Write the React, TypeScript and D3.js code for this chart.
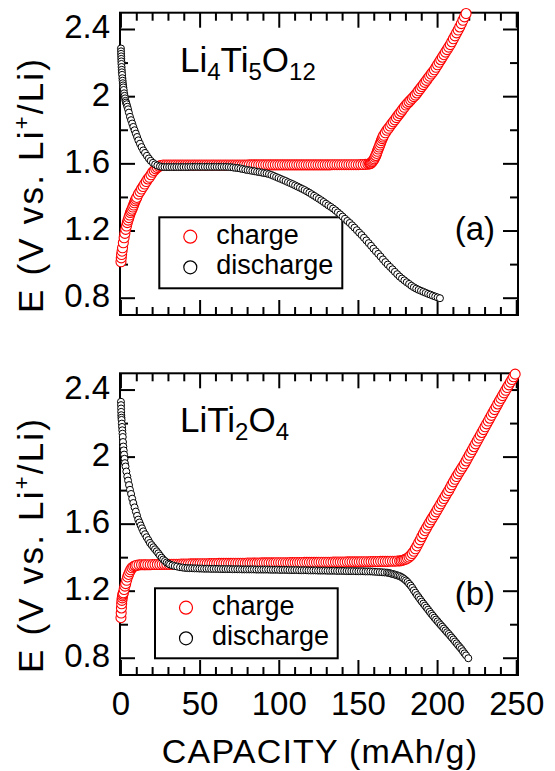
import React from "react";
import * as d3 from "d3";

const W = 555;
const H = 771;
const FONT = "'Liberation Sans', Arial, Helvetica, sans-serif";
const RED = "#ff0000";
const BLACK = "#000000";

// Li4Ti5O12 : [capacity (mAh/g), E (V)]
const ltoCharge: [number, number][] = [
  [0, 1.017], [0.2, 1.04], [0.4, 1.06], [0.7, 1.08], [1, 1.1], [1.5, 1.13], [2, 1.16], [2.5, 1.186],
  [3, 1.21], [3.5, 1.23], [4, 1.25], [4.5, 1.265], [5, 1.28], [5.5, 1.295], [6, 1.31], [6.5, 1.32], [7, 1.33],
  [7.5, 1.343], [8, 1.355], [8.5, 1.368], [9, 1.38], [9.5, 1.39], [10, 1.4], [11, 1.42], [12, 1.435],
  [13, 1.45], [14, 1.465], [15, 1.48], [16, 1.495], [17, 1.51], [18, 1.52], [19, 1.535], [20, 1.55],
  [21, 1.56], [22, 1.57], [23, 1.578], [24, 1.585], [25, 1.59], [26, 1.592],
  [27, 1.593], [28.5, 1.593], [30, 1.593], [31.5, 1.593], [33, 1.593], [34.5, 1.593], [36, 1.593],
  [37.5, 1.593], [39, 1.593], [40.5, 1.593], [42, 1.593], [43.5, 1.593], [45, 1.593], [46.5, 1.593],
  [48, 1.593], [49.5, 1.593], [51, 1.593], [52.5, 1.593], [54, 1.593], [55.5, 1.593], [57, 1.593],
  [58.5, 1.593], [60, 1.593], [61.5, 1.593], [63, 1.593], [64.5, 1.593], [66, 1.593], [67.5, 1.593],
  [69, 1.593], [70.5, 1.593], [72, 1.593], [73.5, 1.593], [75, 1.593], [76.5, 1.593], [78, 1.593],
  [79.5, 1.593], [81, 1.594], [82.5, 1.594], [84, 1.594], [85.5, 1.594], [87, 1.594], [88.5, 1.594],
  [90, 1.594], [91.5, 1.594], [93, 1.594], [94.5, 1.594], [96, 1.594], [97.5, 1.594], [99, 1.594],
  [100.5, 1.594], [102, 1.594], [103.5, 1.594], [105, 1.594], [106.5, 1.594], [108, 1.594], [109.5, 1.594],
  [111, 1.594], [112.5, 1.594], [114, 1.594], [115.5, 1.594], [117, 1.594], [118.5, 1.594], [120, 1.594],
  [121.5, 1.594], [123, 1.594], [124.5, 1.594], [126, 1.594], [127.5, 1.594], [129, 1.594], [130.5, 1.594],
  [132, 1.594], [133.5, 1.595], [135, 1.595], [136.5, 1.595], [138, 1.595], [139.5, 1.595], [141, 1.595],
  [142.5, 1.595], [144, 1.595], [145.5, 1.595], [147, 1.595], [148.5, 1.595], [150, 1.595], [151.5, 1.596],
  [153, 1.596], [154.5, 1.597], [156, 1.598],
  [157, 1.6], [157.5, 1.602], [158, 1.605], [158.5, 1.61], [159, 1.615], [159.5, 1.622], [160, 1.63],
  [160.5, 1.64], [161, 1.65], [161.5, 1.662], [162, 1.675], [162.5, 1.688], [163, 1.7], [163.5, 1.712],
  [164, 1.725], [164.5, 1.738], [165, 1.75], [165.5, 1.76], [166, 1.77], [167, 1.785], [168, 1.8],
  [169, 1.812], [170, 1.825], [171, 1.838], [172, 1.85], [173, 1.862], [174, 1.875], [175, 1.888],
  [176, 1.9], [177, 1.912], [178, 1.925], [179, 1.937], [180, 1.95], [181, 1.96], [182, 1.97], [183, 1.98],
  [184, 1.99], [185, 2.0], [186, 2.01], [187, 2.022], [188, 2.035], [189, 2.047], [190, 2.06], [191, 2.072],
  [192, 2.085], [193, 2.097], [194, 2.11], [195, 2.122], [196, 2.135], [197, 2.147], [198, 2.16],
  [199, 2.175], [200, 2.19], [201, 2.205], [202, 2.22], [203, 2.235], [204, 2.25], [205, 2.265], [206, 2.28],
  [207, 2.295], [208, 2.31], [209, 2.327], [210, 2.345], [211, 2.362], [212, 2.38], [213, 2.397],
  [214, 2.415], [215, 2.435], [216, 2.455], [217, 2.475], [218, 2.495],
];

const ltoDischarge: [number, number][] = [
  [0, 2.287], [0.05, 2.27], [0.1, 2.255], [0.15, 2.24], [0.2, 2.225], [0.25, 2.21], [0.3, 2.195], [0.4, 2.177],
  [0.5, 2.16], [0.6, 2.145], [0.75, 2.13], [0.9, 2.11], [1.05, 2.095], [1.2, 2.08], [1.35, 2.067], [1.5, 2.055],
  [1.75, 2.04], [2, 2.02], [2.3, 2.005], [2.6, 1.99], [2.9, 1.975], [3.2, 1.965], [3.6, 1.955], [4, 1.94],
  [4.5, 1.925], [5, 1.905], [5.7, 1.88], [6.4, 1.86], [7.1, 1.84], [7.8, 1.82], [8.6, 1.8], [9.4, 1.78],
  [10.2, 1.76], [11, 1.74], [12, 1.72], [13, 1.7], [14.1, 1.68], [15.2, 1.665], [16.4, 1.648], [17.6, 1.632],
  [18.8, 1.618], [20.2, 1.606], [21.6, 1.597], [23, 1.59], [24.6, 1.585], [26, 1.582],
  [27.5, 1.581], [29, 1.581], [30.5, 1.581], [32, 1.581], [33.5, 1.581], [35, 1.581], [36.5, 1.581],
  [38, 1.581], [39.5, 1.581], [41, 1.581], [42.5, 1.581], [44, 1.582], [45.5, 1.582], [47, 1.582],
  [48.5, 1.582], [50, 1.582], [51.5, 1.582], [53, 1.582], [54.5, 1.582], [56, 1.582], [57.5, 1.582],
  [59, 1.582], [60.5, 1.582], [62, 1.582], [63.5, 1.582], [65, 1.582], [66.5, 1.582],
  [68, 1.581], [69.5, 1.58], [71, 1.578], [72.5, 1.576], [74, 1.575], [75.5, 1.572], [77, 1.569], [78.5, 1.566],
  [80, 1.563], [81.5, 1.561], [83, 1.558], [84.5, 1.556], [86, 1.553], [87.5, 1.551], [89, 1.548],
  [90.5, 1.545], [92, 1.543], [93.5, 1.539], [95, 1.534], [96.5, 1.528], [98, 1.522], [99.5, 1.516],
  [101, 1.51], [102.5, 1.504], [104, 1.498], [105.5, 1.491], [107, 1.485], [108.5, 1.479], [110, 1.472],
  [111.5, 1.465], [113, 1.458], [114.5, 1.451], [116, 1.444], [117.5, 1.436], [119, 1.428], [120.5, 1.419],
  [122, 1.41], [123.5, 1.401], [125, 1.392], [126.5, 1.383], [128, 1.373], [129.5, 1.363], [131, 1.353],
  [132.5, 1.344], [134, 1.334], [135.5, 1.323], [137, 1.311], [138.5, 1.299], [140, 1.286], [141.5, 1.273],
  [143, 1.26], [144.5, 1.248], [146, 1.234], [147.5, 1.22], [149, 1.205], [150.5, 1.19], [152, 1.176],
  [153.5, 1.16], [155, 1.144], [156.5, 1.128], [158, 1.112], [159.5, 1.095], [161, 1.079], [162.5, 1.064],
  [164, 1.048], [165.5, 1.031], [167, 1.015], [168.5, 1.0], [170, 0.986], [171.5, 0.972], [173, 0.957],
  [174.5, 0.943], [176, 0.929], [177.5, 0.917], [179, 0.906], [180.5, 0.895], [182, 0.885], [183.5, 0.874],
  [185, 0.865], [186.5, 0.857], [188, 0.85], [189.5, 0.844], [191, 0.838], [192.5, 0.832], [194, 0.826],
  [195.5, 0.821], [197, 0.815], [198.5, 0.81], [200, 0.805], [201.5, 0.8],
];

// LiTi2O4 : [capacity (mAh/g), E (V)]
const ltCharge: [number, number][] = [
  [0, 1.042], [0.15, 1.07], [0.3, 1.1], [0.45, 1.125], [0.6, 1.145], [0.8, 1.16], [1, 1.172], [1.25, 1.182],
  [1.5, 1.19], [2, 1.21], [2.5, 1.23], [3, 1.245], [3.6, 1.265], [4.2, 1.285], [4.8, 1.3], [5.5, 1.315],
  [6.2, 1.328], [7, 1.34], [8, 1.347], [9, 1.352], [10, 1.355], [11.5, 1.357], [13, 1.358], [14.5, 1.358],
  [15.5, 1.358], [17, 1.358], [18.5, 1.358], [20, 1.359], [21.5, 1.359], [23, 1.359], [24.5, 1.359],
  [26, 1.36], [27.5, 1.36], [29, 1.36], [30.5, 1.36], [32, 1.361], [33.5, 1.361], [35, 1.361], [36.5, 1.361],
  [38, 1.362], [39.5, 1.362], [41, 1.362], [42.5, 1.362], [44, 1.363], [45.5, 1.363], [47, 1.363],
  [48.5, 1.363], [50, 1.364], [51.5, 1.364], [53, 1.364], [54.5, 1.364], [56, 1.365], [57.5, 1.365],
  [59, 1.365], [60.5, 1.365], [62, 1.366], [63.5, 1.366], [65, 1.366], [66.5, 1.366], [68, 1.366],
  [69.5, 1.366], [71, 1.367], [72.5, 1.367], [74, 1.367], [75.5, 1.367], [77, 1.367], [78.5, 1.367],
  [80, 1.368], [81.5, 1.368], [83, 1.368], [84.5, 1.368], [86, 1.368], [87.5, 1.368], [89, 1.369],
  [90.5, 1.369], [92, 1.369], [93.5, 1.369], [95, 1.369], [96.5, 1.369], [98, 1.37], [99.5, 1.37],
  [101, 1.37], [102.5, 1.37], [104, 1.37], [105.5, 1.37], [107, 1.371], [108.5, 1.371], [110, 1.371],
  [111.5, 1.371], [113, 1.371], [114.5, 1.371], [116, 1.372], [117.5, 1.372], [119, 1.372], [120.5, 1.372],
  [122, 1.372], [123.5, 1.372], [125, 1.373], [126.5, 1.373], [128, 1.373], [129.5, 1.373], [131, 1.373],
  [132.5, 1.373], [134, 1.374], [135.5, 1.374], [137, 1.374], [138.5, 1.374], [140, 1.374], [141.5, 1.374],
  [143, 1.375], [144.5, 1.375], [146, 1.375], [147.5, 1.375], [149, 1.375], [150.5, 1.375], [152, 1.376],
  [153.5, 1.376], [155, 1.376], [156.5, 1.376], [158, 1.377], [159.5, 1.377], [161, 1.377], [162.5, 1.377],
  [164, 1.378], [165.5, 1.378], [167, 1.378], [168.5, 1.378], [170, 1.379], [171.5, 1.379], [173, 1.379],
  [174.5, 1.38], [176, 1.381],
  [177, 1.382], [178, 1.385], [179, 1.388], [180, 1.392], [181, 1.397], [182, 1.404], [183, 1.413],
  [184, 1.425], [185, 1.438], [186, 1.453], [187, 1.47], [188, 1.488], [189, 1.506], [190, 1.525],
  [191, 1.543], [192, 1.561], [193, 1.577], [194, 1.594], [195, 1.61], [196, 1.626], [197, 1.641],
  [198, 1.657], [199, 1.673], [200, 1.689], [201, 1.705], [202, 1.721], [203, 1.737], [204, 1.753],
  [205, 1.769], [206, 1.785], [207, 1.8], [208, 1.818], [209, 1.835], [210, 1.852], [211, 1.868], [212, 1.884],
  [213, 1.9], [214, 1.915], [215, 1.93], [216, 1.945], [217, 1.96], [218, 1.977], [219, 1.994], [220, 2.011],
  [221, 2.028], [222, 2.045], [223, 2.062], [224, 2.079], [225, 2.096], [226, 2.113], [227, 2.13], [228, 2.147],
  [229, 2.164], [230, 2.181], [231, 2.198], [232, 2.215], [233, 2.232], [234, 2.249], [235, 2.266], [236, 2.283],
  [237, 2.3], [238, 2.317], [239, 2.334], [240, 2.35], [241, 2.367], [242, 2.383], [243, 2.399], [244, 2.415],
  [245, 2.431], [246, 2.447], [247, 2.463], [248, 2.479], [249, 2.495],
];

const ltDischarge: [number, number][] = [
  [0, 2.33], [0.05, 2.31], [0.1, 2.29], [0.15, 2.27], [0.2, 2.25], [0.3, 2.235], [0.4, 2.222], [0.55, 2.2],
  [0.7, 2.18], [0.85, 2.16], [1, 2.14], [1.15, 2.12], [1.3, 2.09], [1.5, 2.063], [1.75, 2.04], [2, 2.015],
  [2.25, 1.99], [2.5, 1.964], [2.9, 1.944], [3.4, 1.914], [4, 1.884], [4.5, 1.86], [5.1, 1.833], [5.7, 1.805],
  [6.4, 1.78], [7.1, 1.752], [7.8, 1.726], [8.6, 1.7], [9.4, 1.675], [10.2, 1.65], [10.9, 1.627], [11.7, 1.61],
  [12.5, 1.592], [13.3, 1.575], [14.1, 1.557], [15.2, 1.54], [16.2, 1.522], [17.3, 1.505], [18.3, 1.488],
  [19.4, 1.475], [20.5, 1.462], [21.5, 1.45], [22.6, 1.438], [23.6, 1.426], [24.6, 1.413], [25.7, 1.4],
  [26.7, 1.389], [27.8, 1.38], [28.9, 1.371], [30, 1.364], [31, 1.359], [32.5, 1.354], [34, 1.35], [35.5, 1.347],
  [37.3, 1.343], [39, 1.341], [40.5, 1.339], [42, 1.338], [43.5, 1.337], [45, 1.337], [46.5, 1.336],
  [48, 1.336], [49.5, 1.335],
  [51, 1.335], [52.5, 1.334], [54, 1.334], [55.5, 1.334], [57, 1.333], [58.5, 1.333], [60, 1.333],
  [61.5, 1.333], [63, 1.332], [64.5, 1.332], [66, 1.332], [67.5, 1.332], [69, 1.332], [70.5, 1.331],
  [72, 1.331], [73.5, 1.331], [75, 1.331], [76.5, 1.33], [78, 1.33], [79.5, 1.33], [81, 1.33], [82.5, 1.33],
  [84, 1.33], [85.5, 1.329], [87, 1.329], [88.5, 1.329], [90, 1.329], [91.5, 1.329], [93, 1.329],
  [94.5, 1.328], [96, 1.328], [97.5, 1.328], [99, 1.328], [100.5, 1.327], [102, 1.327], [103.5, 1.327],
  [105, 1.327], [106.5, 1.326], [108, 1.326], [109.5, 1.326], [111, 1.326], [112.5, 1.325], [114, 1.325],
  [115.5, 1.325], [117, 1.325], [118.5, 1.324], [120, 1.324], [121.5, 1.324], [123, 1.324], [124.5, 1.323],
  [126, 1.323], [127.5, 1.323], [129, 1.323], [130.5, 1.322], [132, 1.322], [133.5, 1.322], [135, 1.322],
  [136.5, 1.321], [138, 1.321], [139.5, 1.321], [141, 1.321], [142.5, 1.32], [144, 1.32], [145.5, 1.32],
  [147, 1.32], [148.5, 1.319], [150, 1.319], [151.5, 1.319], [153, 1.319], [154.5, 1.318], [156, 1.318],
  [157.5, 1.318], [159, 1.317], [160.5, 1.316], [162, 1.315], [163.5, 1.314], [165, 1.313], [166.5, 1.312],
  [168, 1.311], [169, 1.309], [170, 1.307], [171, 1.304], [172, 1.302], [173, 1.299], [174, 1.296],
  [175, 1.293], [176, 1.29], [177, 1.285], [178, 1.279], [179, 1.272], [180, 1.264], [181, 1.255],
  [182, 1.244], [183, 1.233], [184, 1.22], [185, 1.205], [186, 1.191], [187, 1.177], [188, 1.164],
  [189, 1.151], [190, 1.138], [191, 1.126], [192, 1.114], [193, 1.102], [194, 1.09], [195, 1.077],
  [196, 1.065], [197, 1.054], [198, 1.042], [199, 1.031], [200, 1.02], [201, 1.009], [202, 0.998],
  [203, 0.988], [204, 0.977], [205, 0.966], [206, 0.955], [207, 0.945], [208, 0.934], [209, 0.923],
  [210, 0.912], [211, 0.9], [212, 0.889], [213, 0.877], [214, 0.866], [215, 0.855], [216, 0.842],
  [217, 0.829], [218, 0.817], [219.4, 0.8],
];

const xMajorTicks = [0, 50, 100, 150, 200, 250];
const xMinorTicks = [10, 20, 30, 40, 60, 70, 80, 90, 110, 120, 130, 140, 160, 170, 180, 190, 210, 220, 230, 240];
const yMajorTicks = [0.8, 1.2, 1.6, 2.0, 2.4];
const yMajorLabels = ["0.8", "1.2", "1.6", "2", "2.4"];
const yMinorTicks = [1.0, 1.4, 1.8, 2.2];
const seriesNames = ["charge", "discharge"];

const X_DOMAIN: [number, number] = [-0.6, 250.8];
const Y_DOMAIN: [number, number] = [0.7, 2.5];
const LEFT = 120;
const RIGHT = 518;

type PanelProps = {
  top: number;
  bottom: number;
  charge: [number, number][];
  discharge: [number, number][];
  formula: React.ReactNode;
  tag: string;
  tagY: number;
  legend: { x: number; y: number; w: number; h: number };
  showXLabels: boolean;
};

function Panel({ top, bottom, charge, discharge, formula, tag, tagY, legend, showXLabels }: PanelProps) {
  const x = d3.scaleLinear().domain(X_DOMAIN).range([LEFT, RIGHT]);
  const y = d3.scaleLinear().domain(Y_DOMAIN).range([bottom, top]);
  const majorLen = 15;
  const minorLen = 8;

  return (
    <g>
      {/* inward ticks on all four sides */}
      {xMajorTicks.map((t) => (
        <g key={"xM" + t}>
          <line x1={x(t)} x2={x(t)} y1={bottom} y2={bottom - majorLen} stroke="#000" strokeWidth={2} />
          <line x1={x(t)} x2={x(t)} y1={top} y2={top + majorLen} stroke="#000" strokeWidth={2} />
        </g>
      ))}
      {xMinorTicks.map((t) => (
        <g key={"xm" + t}>
          <line x1={x(t)} x2={x(t)} y1={bottom} y2={bottom - minorLen} stroke="#000" strokeWidth={2} />
          <line x1={x(t)} x2={x(t)} y1={top} y2={top + minorLen} stroke="#000" strokeWidth={2} />
        </g>
      ))}
      {yMajorTicks.map((t) => (
        <g key={"yM" + t}>
          <line x1={LEFT} x2={LEFT + majorLen} y1={y(t)} y2={y(t)} stroke="#000" strokeWidth={2} />
          <line x1={RIGHT} x2={RIGHT - majorLen} y1={y(t)} y2={y(t)} stroke="#000" strokeWidth={2} />
        </g>
      ))}
      {yMinorTicks.map((t) => (
        <g key={"ym" + t}>
          <line x1={LEFT} x2={LEFT + minorLen} y1={y(t)} y2={y(t)} stroke="#000" strokeWidth={2} />
          <line x1={RIGHT} x2={RIGHT - minorLen} y1={y(t)} y2={y(t)} stroke="#000" strokeWidth={2} />
        </g>
      ))}
      <rect x={LEFT} y={top} width={RIGHT - LEFT} height={bottom - top} fill="none" stroke="#000" strokeWidth={2} />

      {/* y tick labels */}
      {yMajorTicks.map((t, i) => (
        <text key={"yl" + t} x={110} y={y(t) + 9} textAnchor="end" fontSize={33} fontFamily={FONT}>
          {yMajorLabels[i]}
        </text>
      ))}
      {showXLabels &&
        xMajorTicks.map((t) => (
          <text key={"xl" + t} x={x(t)} y={bottom + 40} textAnchor="middle" fontSize={33} fontFamily={FONT}>
            {t}
          </text>
        ))}

      {/* y axis title */}
      <text
        transform={`translate(43,${bottom - 2}) rotate(-90)`}
        textAnchor="start"
        fontSize={35}
        letterSpacing={2.2}
        fontFamily={FONT}
      >
        E (V vs. Li<tspan fontSize={22} dy={-14}>+</tspan>
        <tspan dy={14}>/Li)</tspan>
      </text>

      {formula}
      <text x={495} y={tagY} textAnchor="end" fontSize={33} fontFamily={FONT}>
        {tag}
      </text>

      {/* legend */}
      <rect x={legend.x} y={legend.y} width={legend.w} height={legend.h} fill="#fff" stroke="#000" strokeWidth={2} />
      {seriesNames.map((name, i) => (
        <g key={name}>
          <circle
            cx={legend.x + 31}
            cy={legend.y + 19.4 + i * 30.6}
            r={6.5}
            fill="#fff"
            stroke={i === 0 ? RED : BLACK}
            strokeWidth={1.2}
          />
          <text x={legend.x + 57} y={legend.y + 27 + i * 30} fontSize={27} fontFamily={FONT}>
            {name}
          </text>
        </g>
      ))}

      {/* data markers: charge first, discharge on top */}
      {charge.map(([c, v], i) => (
        <circle key={"c" + i} cx={x(c)} cy={y(v)} r={5} fill="#fff" stroke={RED} strokeWidth={1.1} />
      ))}
      {discharge.map(([c, v], i) => (
        <circle key={"d" + i} cx={x(c)} cy={y(v)} r={3.5} fill="#fff" stroke={BLACK} strokeWidth={1} />
      ))}
    </g>
  );
}

export default function App() {
  return (
    <svg
      width={W}
      height={H}
      viewBox={`0 0 ${W} ${H}`}
      style={{ position: "absolute", left: 0, top: 0, background: "#fff" }}
    >
      <rect x={0} y={0} width={W} height={H} fill="#fff" />
      <Panel
        top={12.7}
        bottom={315}
        charge={ltoCharge}
        discharge={ltoDischarge}
        tag="(a)"
        tagY={240}
        legend={{ x: 159.3, y: 217.3, w: 183, h: 71 }}
        showXLabels={false}
        formula={
          <text x={180} y={72} fontSize={35} fontFamily={FONT}>
            Li<tspan fontSize={24} dy={8}>4</tspan>
            <tspan dy={-8}>Ti</tspan>
            <tspan fontSize={24} dy={8}>5</tspan>
            <tspan dy={-8}>O</tspan>
            <tspan fontSize={24} dy={8}>12</tspan>
          </text>
        }
      />
      <Panel
        top={373.3}
        bottom={675}
        charge={ltCharge}
        discharge={ltDischarge}
        tag="(b)"
        tagY={605}
        legend={{ x: 155, y: 588.3, w: 182.7, h: 70 }}
        showXLabels={true}
        formula={
          <text x={180} y={432} fontSize={35} fontFamily={FONT}>
            LiTi<tspan fontSize={24} dy={8}>2</tspan>
            <tspan dy={-8}>O</tspan>
            <tspan fontSize={24} dy={8}>4</tspan>
          </text>
        }
      />
      <text x={320} y={763} textAnchor="middle" fontSize={34} letterSpacing={1.2} fontFamily={FONT}>
        CAPACITY (mAh/g)
      </text>
    </svg>
  );
}
